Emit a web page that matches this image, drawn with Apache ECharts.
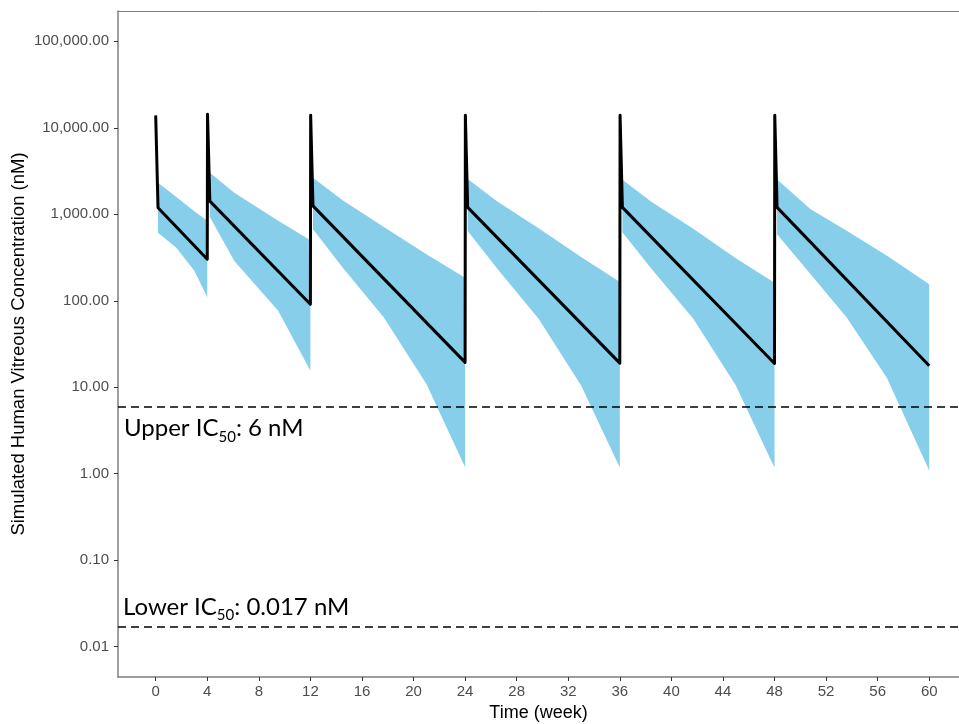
<!DOCTYPE html>
<html>
<head>
<meta charset="utf-8">
<title>Simulated Human Vitreous Concentration</title>
<script src="https://cdn.jsdelivr.net/npm/echarts@6/dist/echarts.min.js"></script>
<style>
  html, body { margin: 0; padding: 0; background: #fff; }
  #chart { width: 959px; height: 724px; }
</style>
</head>
<body>
<div id="chart"></div>
<script>
// mean curve, week / nM
var meanTime = [0, 0.18, 4, 4.02, 4.2, 12, 12.02, 12.2, 24, 24.02, 24.2, 36, 36.02, 36.2, 48, 48.02, 48.2, 60];
var meanConc = [13900, 1190, 302, 14300, 1420, 91, 14000, 1250, 19.4, 14000, 1200, 19, 14000, 1200, 18.8, 14000, 1200, 17.7];

// prediction band, one row per dosing interval
var bandTime = [
  [0.18, 1.6, 3.0, 4.0],
  [4.2, 6.1, 9.5, 12],
  [12.2, 14.5, 17.7, 21, 24],
  [24.2, 26.5, 29.7, 33, 36],
  [36.2, 38.5, 41.7, 45, 48],
  [48.2, 50.8, 53.6, 56.7, 60]
];
var bandUpper = [
  [2310, 1580, 1080, 840],
  [3010, 1770, 843, 500],
  [2640, 1450, 710, 345, 185],
  [2550, 1400, 690, 320, 165],
  [2500, 1380, 680, 310, 162],
  [2530, 1140, 645, 333, 155]
];
var bandLower = [
  [612, 411, 222, 110],
  [930, 289, 76.5, 15.5],
  [670, 242, 64, 10.9, 1.19],
  [640, 235, 62, 10.5, 1.18],
  [620, 230, 62, 10.5, 1.17],
  [587, 203, 64, 13, 1.09]
];

// IC50 reference lines
var icValues = [6, 0.017];
var icNames = ['Upper', 'Lower'];
var icText = ['6 nM', '0.017 nM'];

var xTicks = [0, 4, 8, 12, 16, 20, 24, 28, 32, 36, 40, 44, 48, 52, 56, 60];
var yTicks = [0.01, 0.1, 1, 10, 100, 1000, 10000, 100000];

var chart = echarts.init(document.getElementById('chart'));

var axisGrey = '#7f7f7f';
var labelGrey = '#4d4d4d';

var icMarks = icValues.map(function (v, i) {
  return {
    yAxis: v,
    label: {
      show: true,
      position: i === 0 ? 'insideStartBottom' : 'insideStartTop',
      distance: i === 0 ? [6, 10] : [5, 4],
      formatter: '{a|' + icNames[i] + ' IC}{b|50}{a|: ' + icText[i] + '}',
      rich: {
        a: { fontFamily: 'Lato', fontSize: 24, color: '#000', lineHeight: 28, verticalAlign: 'top' },
        b: { fontFamily: 'Lato', fontSize: 15, color: '#000', lineHeight: 11, verticalAlign: 'bottom' }
      }
    }
  };
});

var option = {
  animation: false,
  grid: { left: 118, top: 11, right: 0, bottom: 47, outerBoundsMode: 'none', containLabel: false },
  xAxis: [
    {
      type: 'value',
      min: -2.924, max: 62.31,
      name: 'Time (week)',
      nameLocation: 'middle',
      nameGap: 25,
      nameTextStyle: { fontFamily: 'Liberation Sans', fontSize: 18, color: '#000' },
      axisLine: { onZero: false, lineStyle: { color: axisGrey, width: 1.5 } },
      axisTick: { show: true, length: 4, customValues: xTicks, lineStyle: { color: '#333' } },
      axisLabel: { customValues: xTicks, fontFamily: 'Liberation Sans', fontSize: 15, color: labelGrey, margin: 7 },
      splitLine: { show: false }
    },
    {
      // top frame line only
      type: 'value',
      position: 'top',
      min: -2.924, max: 62.31,
      axisLine: { show: true, onZero: false, lineStyle: { color: axisGrey, width: 1 } },
      axisTick: { show: false },
      axisLabel: { show: false },
      splitLine: { show: false }
    }
  ],
  yAxis: {
    type: 'log',
    logBase: 10,
    min: Math.pow(10, -2.35),
    max: Math.pow(10, 5.35),
    name: 'Simulated Human Vitreous Concentration (nM)',
    nameLocation: 'middle',
    nameGap: 90,
    nameMoveOverlap: false,
    nameTextStyle: { fontFamily: 'Liberation Sans', fontSize: 18.5, color: '#000' },
    axisLine: { show: true, onZero: false, lineStyle: { color: axisGrey, width: 1.5 } },
    axisTick: { show: true, length: 4, customValues: yTicks, lineStyle: { color: '#333' } },
    axisLabel: {
      customValues: yTicks,
      fontFamily: 'Liberation Sans', fontSize: 15, color: labelGrey, margin: 9,
      formatter: function (v) {
        return Number(v).toLocaleString('en-US', { minimumFractionDigits: 2, maximumFractionDigits: 2 });
      }
    },
    splitLine: { show: false }
  },
  series: [
    {
      name: 'band',
      type: 'custom',
      z: 1,
      silent: true,
      encode: { x: 0, y: 1 },
      data: bandTime.map(function (t, i) { return [t[0], bandUpper[i][0], i]; }),
      renderItem: function (params, api) {
        var i = api.value(2);
        var t = bandTime[i];
        var pts = [];
        for (var k = 0; k < t.length; k++) pts.push(api.coord([t[k], bandUpper[i][k]]));
        for (var k = t.length - 1; k >= 0; k--) pts.push(api.coord([t[k], bandLower[i][k]]));
        return { type: 'polygon', shape: { points: pts }, style: { fill: '#87ceeb' } };
      }
    },
    {
      name: 'mean',
      type: 'line',
      z: 3,
      symbol: 'none',
      lineStyle: { color: '#000', width: 3, join: 'round' },
      data: meanTime.map(function (t, i) { return [t, meanConc[i]]; }),
      markLine: {
        silent: true,
        precision: 4,
        symbol: ['none', 'none'],
        lineStyle: { color: '#000', width: 1.5, type: [8, 5] },
        data: icMarks
      }
    }
  ]
};

chart.setOption(option);
</script>
</body>
</html>
